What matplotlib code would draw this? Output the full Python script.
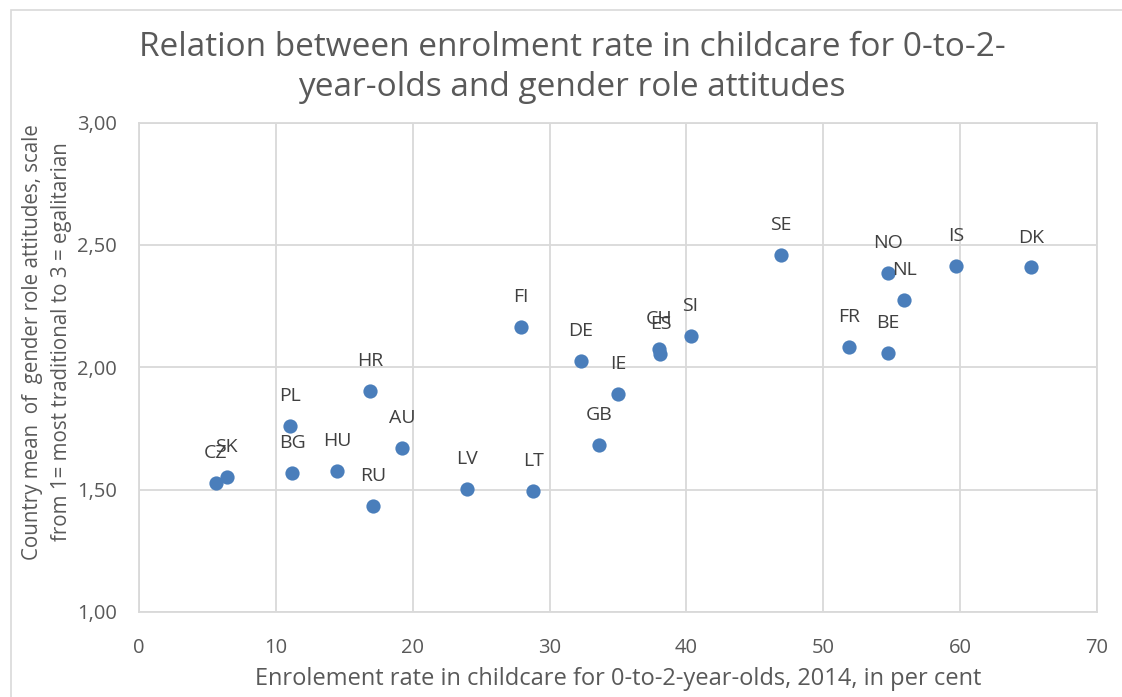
import matplotlib.pyplot as plt
from matplotlib.patches import Rectangle

# country codes and values
countries = ["CZ", "SK", "PL", "BG", "HU", "HR", "RU", "AU", "LV", "LT",
             "FI", "DE", "IE", "GB", "CH", "ES", "SI", "SE", "FR", "BE",
             "NO", "NL", "IS", "DK"]
enrolment = [5.6, 6.4, 11.0, 11.2, 14.5, 16.9, 17.1, 19.2, 24.0, 28.8,
             27.9, 32.3, 35.0, 33.6, 38.0, 38.1, 40.3, 46.9, 51.9, 54.7,
             54.7, 55.9, 59.7, 65.2]
attitude = [1.526, 1.553, 1.760, 1.567, 1.576, 1.903, 1.435, 1.670, 1.503, 1.495,
            2.166, 2.027, 1.890, 1.684, 2.075, 2.056, 2.128, 2.459, 2.084, 2.060,
            2.386, 2.276, 2.414, 2.408]

x_ticks = [0, 10, 20, 30, 40, 50, 60, 70]
y_ticks = [1.0, 1.5, 2.0, 2.5, 3.0]

plt.rcParams['font.family'] = ['Open Sans', 'DejaVu Sans']
grid_col = '#d9d9d9'
text_col = '#595959'

fig = plt.figure(figsize=(11.22, 6.97), dpi=100)
ax = fig.add_axes([139/1122, 1-612/697, (1097-139)/1122, (612-122.5)/697])

# outer chart border
fig.patches.append(Rectangle((11/1122, -0.05), 1.2, 1-10/697+0.05, transform=fig.transFigure,
                             fill=False, edgecolor=grid_col, linewidth=1.2))

ax.scatter(enrolment, attitude, s=105, color='#4a7ebb', zorder=3, linewidths=0)
for c, xv, yv in zip(countries, enrolment, attitude):
	ax.annotate(c, (xv, yv), xytext=(0, 15), textcoords='offset points',
	            ha='center', va='bottom', fontsize=14, color='#404040')

ax.set_xlim(0, 70)
ax.set_ylim(1, 3)
ax.set_xticks(x_ticks)
ax.set_yticks(y_ticks)
ax.set_yticklabels([f"{v:.2f}".replace('.', ',') for v in y_ticks])
ax.grid(True, color=grid_col, linewidth=1.3)
ax.set_axisbelow(True)
ax.tick_params(length=0, labelsize=14.5, colors=text_col)
ax.tick_params(axis='y', pad=16)
ax.tick_params(axis='x', pad=19)
for s in ax.spines.values():
	s.set_color(grid_col)
	s.set_linewidth(1.3)

fig.text(0.51, 1-47/697, "Relation between enrolment rate in childcare for 0-to-2-",
         ha='center', va='center', fontsize=24, color=text_col)
fig.text(0.51, 1-88/697, "year-olds and gender role attitudes",
         ha='center', va='center', fontsize=24, color=text_col)

ax.set_xlabel("Enrolement rate in childcare for 0-to-2-year-olds, 2014, in per cent",
              fontsize=17, color=text_col, labelpad=6)
fig.text(47/1122, 1-342/697,
         "Country mean  of  gender role attitudes, scale\nfrom 1= most traditional to 3 = egalitarian",
         rotation=90, ha='center', va='center', fontsize=14.8, color=text_col,
         multialignment='center', linespacing=1.45)

fig.savefig("out.png", dpi=100)
